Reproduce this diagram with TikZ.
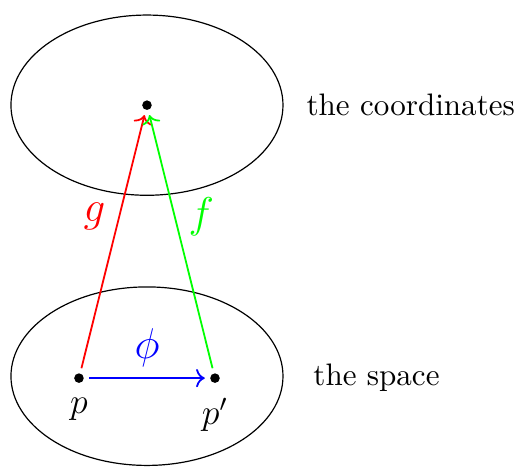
\documentclass[tikz,border=0pt]{standalone}
\usepackage{amsmath,amssymb}
\usepackage{tikz}
\usetikzlibrary{arrows.meta,positioning}
\definecolor{mapred}{HTML}{FF0000}
\definecolor{mapgreen}{HTML}{00FF00}
\definecolor{mapblue}{HTML}{0000FF}
\tikzset{
  % mengder og punkter
  blob/.style={draw=black,line width=0.4pt},
  pt/.style={circle,fill=black,inner sep=0pt,minimum size=3.2pt,outer sep=1.8pt},
  ptlab/.style={font=\large,inner sep=2pt},
  setlab/.style={anchor=west,inner sep=0pt,font=\fontsize{10.4}{12.5}\selectfont},
  % avbildninger
  chartg/.style={->,draw=mapred,line width=0.6pt,nodes={text=mapred,font=\Large}},
  chartf/.style={->,draw=mapgreen,line width=0.6pt,nodes={text=mapgreen,font=\Large}},
  diffeo/.style={->,draw=mapblue,line width=0.6pt,nodes={text=mapblue,font=\Large}},
}
\begin{document}
\begin{tikzpicture}
\useasboundingbox (0,-0.01) rectangle (6.082,5.472);
  \draw[blob] (1.729,4.235) ellipse (1.6 and 1.06);
  \draw[blob] (1.729,1.047) ellipse (1.6 and 1.05);
  \node[pt] (x) at (1.729,4.235) {};
  \node[pt] (p) at (0.929,1.024) {};
  \node[pt] (q) at (2.529,1.024) {};
  \node[ptlab,below=1pt of p] (pl) {$p$};
  \node[ptlab,below=1pt of q] (ql) {$p'$};
  \node[setlab] (coord) at (3.60,4.235) {the coordinates};
  \node[setlab] (space) at (3.68,1.024) {the space};
  \draw[chartg] (p) -- node[pos=0.6,left=1pt] {$g$} (x);
  \draw[chartf] (q) -- node[pos=0.6,right=1pt] {$f$} (x);
  \draw[diffeo] (p) -- node[above=0pt] {$\phi$} (q);
\end{tikzpicture}
\end{document}
